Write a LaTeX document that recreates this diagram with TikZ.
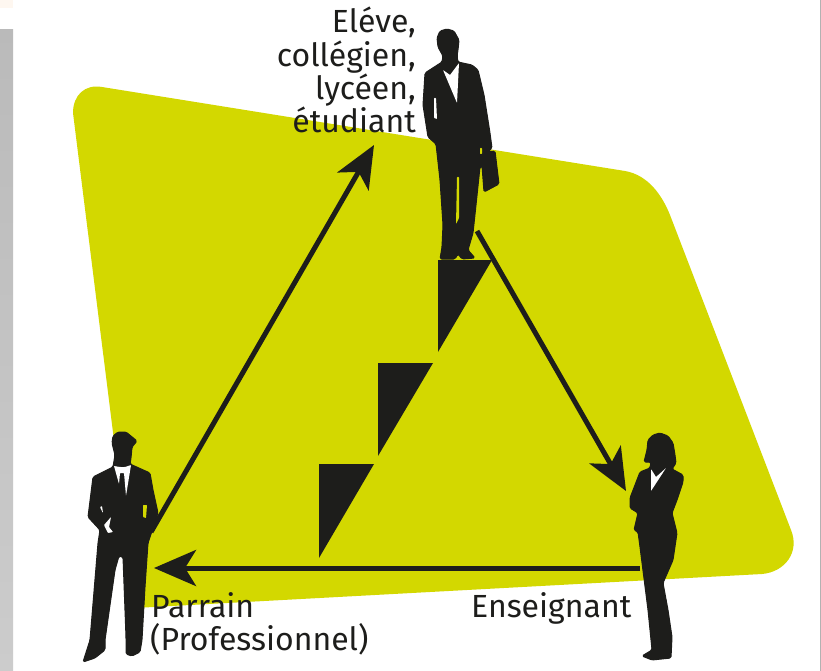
\documentclass[tikz,border=0pt]{standalone}
\usepackage{fontspec}
\setmainfont{Fira Sans}
\usetikzlibrary{arrows.meta}
\definecolor{ink}{HTML}{1D1D1B}
\definecolor{lime}{HTML}{D3D800}
\tikzset{
  sil/.style={fill=ink,draw=ink,line width=1pt,line join=round,rounded corners=1.5pt},
  gap/.style={fill=white,draw=none,rounded corners=0.6pt},
  limegap/.style={fill=lime,draw=none,rounded corners=0.6pt},
  stairpart/.style={fill=ink,draw=none},
  link/.style={draw=ink,line width=5pt,-{Stealth[length=42pt,width=36pt,inset=11pt]}},
  lab/.style={text=ink,font=\fontsize{32}{33}\selectfont,inner sep=0pt},
}
\begin{document}
\begin{tikzpicture}[x=1pt,y=-1pt]
\useasboundingbox (0,0) rectangle (821,671);
\fill[white] (0,0) rectangle (821,671);
% page edges
\fill[black!8!orange!6!white] (0,0) rectangle (13,8);
\shade[top color=black!27,bottom color=black!20] (0,30) rectangle (13,671);
\fill[black!30] (820,0) rectangle (821,671);
% blob
\fill[lime] (73,113) .. controls (73,95) and (85,84) .. (102,87) -- (625,171)
  .. controls (648,175) and (662,195) .. (670,215) -- (791,530)
  .. controls (800,552) and (785,572) .. (762,574) -- (135,608) -- cycle;
% stairs
\fill[stairpart] (438,260) -- (492,260) -- (438,352) -- cycle;
\fill[stairpart] (378,363) -- (433,363) -- (378,456) -- cycle;
\fill[stairpart] (319,464) -- (374,464) -- (319,558) -- cycle;
% student
\fill[sil,draw] (447,29) -- (454,31) -- (459,40) -- (458,50) -- (457,56) -- (458,62) -- (472,65) -- (478,70)
  -- (484,95) -- (490,133) -- (492,148) -- (488,152) -- (495,151) -- (499,184) -- (484,192) -- (482,166)
  -- (480,167) -- (476,205) -- (473,233) -- (468,250) -- (475,258) -- (462,259) -- (458,254) -- (455,259) -- (440,259)
  -- (442,247) -- (443,225) -- (440,180) -- (436,144) -- (428,137) -- (423,105) -- (425,73) -- (442,62) -- (443,56)
  -- (438,47) -- (437,38) -- (440,31) -- cycle;
\fill[gap] (443,70) -- (450,75) -- (459,63) -- (457,103) -- cycle;
\fill[gap] (434,98) -- (436,98) -- (437,119) -- (434,118) -- cycle;
\fill[limegap] (457,177) -- (459,177) -- (459,218) -- (456,224) -- cycle;
\fill[limegap] (480,148) -- (482,148) -- (482,154) -- (480,154) -- cycle;
% sponsor
\fill[sil,draw] (118,432) -- (126,432) -- (137,441) -- (132,447) -- (131,458) -- (130,464) -- (150,473) -- (153,490)
  -- (158,513) -- (148,543) -- (145,587) -- (142,640) -- (140,652) -- (132,656) -- (126,654) -- (126,637) -- (123,557)
  -- (119,556) -- (115,570) -- (105,640) -- (105,650) -- (95,658) -- (83,662) -- (90,640) -- (98,543) -- (100,530) -- (88,517)
  -- (93,477) -- (113,467) -- (115,455) -- (112,443) -- (113,436) -- cycle;
\fill[gap] (114,466) -- (119,484) -- (120,473) -- (124,473) -- (126,496) -- (131,465) -- (125,467) -- (120,467) -- cycle;
\fill[gap] (111,517) -- (104,525) -- (108,533) -- (113,532) -- (109,527) -- cycle;
\fill[limegap] (143,505) -- (147,505) -- (146,518) -- (143,517) -- cycle;
\fill[gap] (100,507) -- (102,506) -- (103,513) -- cycle;
% teacher
\fill[sil,draw] (660,433) -- (668,436) -- (673,443) -- (675,455) -- (676,463) -- (672,469) -- (683,475) -- (683,482) -- (677,500)
  -- (672,513) -- (677,533) -- (673,560) -- (663,583) -- (668,610) -- (672,637) -- (671,658) -- (652,660) -- (642,656)
  -- (652,650) -- (648,610) -- (640,547) -- (638,532) -- (634,530) -- (638,513) -- (630,508) -- (630,498) -- (640,472)
  -- (650,468) -- (651,462) -- (644,462) -- (647,450) -- (648,440) -- (653,435) -- cycle;
\fill[gap] (651,469) -- (656,477) -- (666,468) -- (651,491) -- cycle;
% connector ends
\coordinate (sponsorout) at (151,532);
\coordinate (studentin) at (374,145);
\coordinate (studentout) at (477,231);
\coordinate (teacherin) at (626,491);
\coordinate (teacherout) at (640,568);
\coordinate (sponsorin) at (154,568);
\draw[link] (sponsorout) -- (studentin);
\draw[link] (studentout) -- (teacherin);
\draw[link] (teacherout) -- (sponsorin);
% labels
\node[lab,anchor=base east] (student) at (416,133) {étudiant};
\node[lab,anchor=base east] (student2) at (416,100) {lycéen,};
\node[lab,anchor=base east] (student3) at (416,67) {collégien,};
\node[lab,anchor=base east] (student4) at (416,33) {Eléve,};
\node[lab,anchor=base west] (sponsor) at (151,617) {Parrain};
\node[lab,anchor=base west] (sponsor2) at (150,650) {(Professionnel)};
\node[lab,anchor=base west] (teacher) at (471,617) {Enseignant};
\end{tikzpicture}
\end{document}
